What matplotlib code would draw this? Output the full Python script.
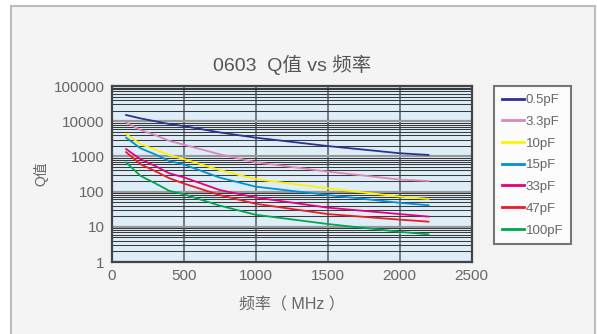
import matplotlib.pyplot as plt
from matplotlib.patches import Rectangle
from matplotlib.ticker import LogLocator, NullFormatter

plt.rcParams['font.family'] = ['Liberation Sans', 'Noto Sans CJK SC', 'DejaVu Sans']

# frequency points (MHz) and Q values
freq = [100, 200, 300, 400, 500, 750, 1000, 1500, 2000, 2200]
q_0p5 = [15000, 12000, 10000, 8300, 7300, 4800, 3400, 1970, 1230, 1100]
q_3p3 = [9300, 5600, 4060, 2760, 2150, 1150, 680, 370, 220, 200]
q_10 = [4300, 2230, 1580, 1090, 840, 410, 225, 124, 72, 62]
q_15 = [3400, 1700, 1150, 740, 590, 250, 138, 80, 48, 41]
q_33 = [1620, 830, 540, 330, 255, 111, 68, 35, 23, 19.5]
q_47 = [1320, 600, 385, 240, 170, 80, 45, 23, 16, 14]
q_100 = [675, 280, 174, 105, 84, 40, 22, 12, 7.2, 6.1]

labels = ['0.5pF', '3.3pF', '10pF', '15pF', '33pF', '47pF', '100pF']
series = [q_0p5, q_3p3, q_10, q_15, q_33, q_47, q_100]
colors = ['#2e3192', '#dd88b9', '#fff200', '#0092d4', '#e6007e', '#ed1c24', '#00a651']

xticks = [0, 500, 1000, 1500, 2000, 2500]
yticks = [1, 10, 100, 1000, 10000, 100000]

txt = '#666666'

fig = plt.figure(figsize=(5.97, 3.34), dpi=100)
fig.patch.set_facecolor('white')
# panel background with frame
fig.patches.append(Rectangle((10.5 / 597, -0.1), 584.5 / 597, 1.1 - 6.5 / 334,
                             transform=fig.transFigure, facecolor='#f4f4f4',
                             edgecolor='#bdbdbd', linewidth=1.5, zorder=-10))

ax = fig.add_axes([111.7 / 597, 1 - 262 / 334, 360 / 597, 176 / 334])
ax.set_facecolor('#ddeef9')

for s, c, lab in zip(series, colors, labels):
    ax.plot(freq, s, color=c, linewidth=1.3, label=lab, zorder=3)

ax.set_yscale('log')
ax.set_xlim(0, 2500)
ax.set_ylim(1, 100000)
ax.set_xticks(xticks)
ax.set_yticks(yticks)
ax.set_yticklabels([str(v) for v in yticks])
ax.yaxis.set_minor_locator(LogLocator(base=10, subs=range(2, 10), numticks=50))
ax.yaxis.set_minor_formatter(NullFormatter())

ax.grid(which='minor', axis='y', color='#3a3a3a', linewidth=0.75, zorder=1)
ax.grid(which='major', axis='y', color='#999999', linewidth=1.6, zorder=1)
ax.grid(which='major', axis='x', color='#666666', linewidth=1.2, zorder=1)
ax.set_axisbelow(True)

for sp in ax.spines.values():
    sp.set_color('#444444')
    sp.set_linewidth(1.6)
ax.tick_params(which='both', length=0, labelsize=11, colors=txt, pad=5)

ax.set_title('0603  Q值 vs 频率', fontsize=14, color='#555555', pad=11)
ax.set_ylabel('Q值', fontsize=10, color=txt, labelpad=4)
ax.set_xlabel('频率（ MHz ）', fontsize=11.5, color=txt, labelpad=10)

leg = ax.legend(loc='upper left', bbox_to_anchor=(494 / 597, 1 - 86 / 334),
                bbox_transform=fig.transFigure, frameon=True, fancybox=False,
                fontsize=9.5, handlelength=1.7, handletextpad=0.1,
                labelspacing=0.72, borderpad=0.6, borderaxespad=0,
                labelcolor=txt)
leg.get_frame().set_edgecolor('#555555')
leg.get_frame().set_linewidth(1.5)
leg.get_frame().set_facecolor('white')
for h in leg.get_lines():
    h.set_linewidth(2)

fig.savefig('out.png', dpi=100, facecolor=fig.get_facecolor())
